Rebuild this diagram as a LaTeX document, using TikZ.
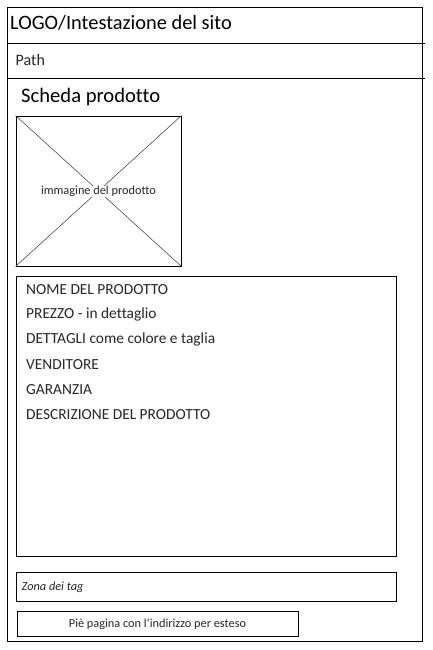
\documentclass[tikz,border=0pt]{standalone}
\usepackage{fontspec}
\setmainfont{Carlito}[Ligatures={NoCommon}]
\begin{document}
\begin{tikzpicture}[x=1pt,y=-1pt,
  box/.style={draw=black,line width=0.9pt},
  lbl/.style={inner sep=0pt,anchor=west,font=\fontsize{15.4}{17}\selectfont,text=black!85},
  small/.style={inner sep=0pt,font=\fontsize{12.3}{14}\selectfont,text=black!85}]
\useasboundingbox (0,0) rectangle (432,650);
\draw[box] (7.5,7) rectangle (422.5,641);
\coordinate (h1l) at (7.5,43.5); \coordinate (h1r) at (425,43.5);
\coordinate (h2l) at (7.5,78); \coordinate (h2r) at (425,78);
\draw[line width=0.9pt] (h1l) -- (h1r);
\draw[line width=0.9pt] (h2l) -- (h2r);
\node[lbl,font=\fontsize{20.4}{23}\selectfont,text=black] (logo) at (10,22.5) {LOGO/Intestazione del sito};
\node[lbl,font=\fontsize{16}{18}\selectfont] (path) at (15.5,60) {Path};
\node[lbl,font=\fontsize{20.6}{23}\selectfont,text=black] (scheda) at (21,97.5) {Scheda prodotto};
% image placeholder
\node[box,minimum width=165pt,minimum height=150pt,inner sep=0pt] (img) at (98.5,191) {};
\draw[line width=0.5pt,black!80] (img.north west) -- (img.south east);
\draw[line width=0.5pt,black!80] (img.north east) -- (img.south west);
\node[small,fill=white,inner sep=0.5pt] (imgt) at (98.5,191.5) {immagine del prodotto};
% info box
\node[box,minimum width=380pt,minimum height=280pt,inner sep=0pt] (info) at (206.5,416) {};
\node[lbl] (i1) at (26,289.5) {NOME DEL PRODOTTO};
\node[lbl] (i2) at (26,314.5) {PREZZO - in dettaglio};
\node[lbl] (i3) at (26,339.5) {DETTAGLI come colore e taglia};
\node[lbl] (i4) at (26,364.5) {VENDITORE};
\node[lbl] (i5) at (26,389.5) {GARANZIA};
\node[lbl] (i6) at (26,414.5) {DESCRIZIONE DEL PRODOTTO};
% tag zone
\node[box,minimum width=380pt,minimum height=29pt,inner sep=0pt] (tag) at (206.5,586.5) {};
\node[small,anchor=west,font=\fontsize{12.3}{14}\selectfont\itshape] (tagt) at (21.5,587.5) {Zona dei tag};
% footer
\node[box,minimum width=281pt,minimum height=25pt,inner sep=0pt] (foot) at (157.5,623.5) {};
\node[small] (foott) at (157.5,624.5) {Piè pagina con l'indirizzo per esteso};
\end{tikzpicture}
\end{document}
